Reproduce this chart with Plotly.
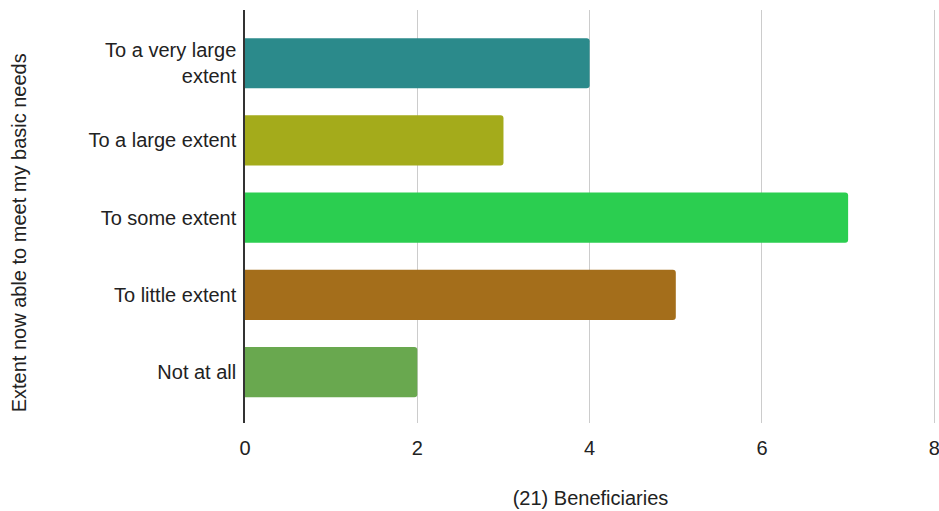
import plotly.graph_objects as go

# Survey responses: extent beneficiaries can now meet basic needs
categories = ["To a very large<br>extent", "To a large extent", "To some extent",
              "To little extent", "Not at all"]
counts = [4, 3, 7, 5, 2]
bar_colors = ["#2b8a8b", "#a4ab1b", "#2bce50", "#a46e1b", "#69a84f"]
x_ticks = [0, 2, 4, 6, 8]

x_title = "(21) Beneficiaries"
y_title = "Extent now able to meet my basic needs"

fig = go.Figure(
    go.Bar(
        x=counts,
        y=categories,
        orientation="h",
        marker=dict(color=bar_colors, line=dict(width=0)),
        width=0.65,
    )
)

font_family = "Liberation Sans, Arial, sans-serif"
text_color = "#222222"

fig.update_layout(
    width=939,
    height=511,
    margin=dict(l=245, r=3, t=10, b=88),
    paper_bgcolor="white",
    plot_bgcolor="white",
    barcornerradius=3,
    showlegend=False,
    font=dict(family=font_family, size=20, color=text_color),
    xaxis=dict(
        range=[0, 8.02],
        tickvals=x_ticks,
        showgrid=True,
        gridcolor="#cccccc",
        gridwidth=1,
        zeroline=False,
        showline=False,
        ticks="",
        ticklabelstandoff=11,
        ticklabeloverflow="allow",
        title=dict(text=x_title, standoff=32,
                   font=dict(size=20, color=text_color)),
        automargin=False,
    ),
    yaxis=dict(
        categoryorder="array",
        categoryarray=categories,
        autorange=False,
        range=[4.66, -0.69],
        showgrid=False,
        zeroline=False,
        showline=True,
        linecolor="#333333",
        linewidth=1.5,
        ticks="",
        ticklabelstandoff=3,
        automargin=False,
    ),
    annotations=[
        dict(
            text=y_title,
            textangle=-90,
            xref="paper", yref="paper",
            x=-0.3266, y=0.46,
            xanchor="center", yanchor="middle",
            showarrow=False,
            font=dict(size=20, color=text_color),
        )
    ],
)

fig.write_html("out.html")
